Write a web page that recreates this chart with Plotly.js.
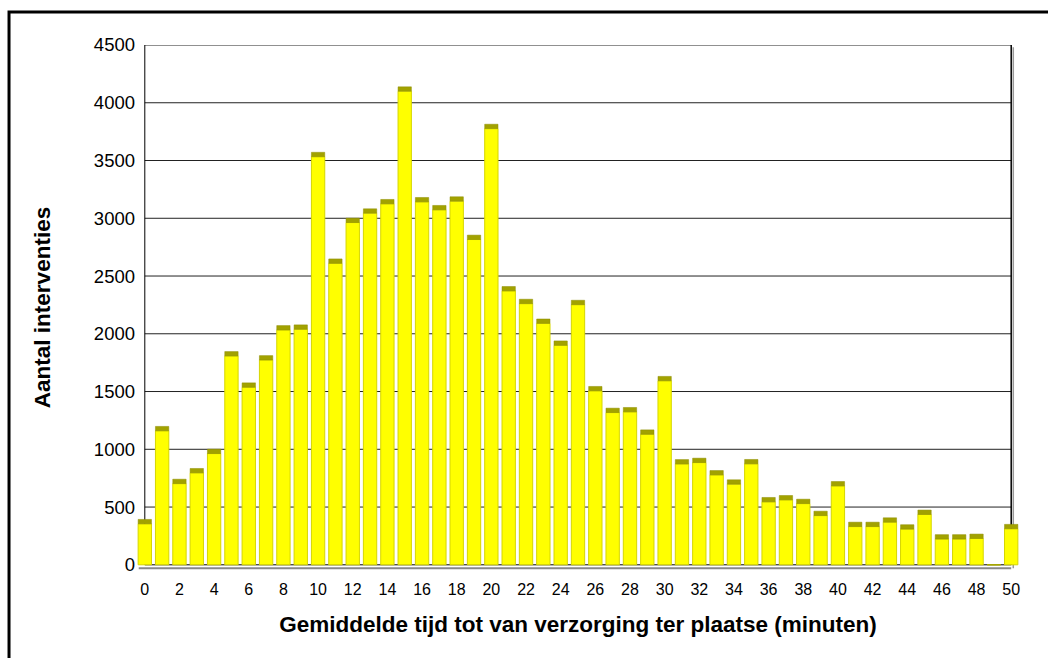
<!DOCTYPE html>
<html>
<head>
<meta charset="utf-8">
<script src="https://cdn.plot.ly/plotly-3.0.1.min.js"></script>
<style>html,body{margin:0;padding:0;background:#fff;}#chart{width:1048px;height:658px;}</style>
</head>
<body>
<div id="chart"></div>
<script>
// Categories: average time until care on site (minutes)
const minutes = [0,1,2,3,4,5,6,7,8,9,10,11,12,13,14,15,16,17,18,19,20,21,22,23,24,25,26,27,28,29,30,31,32,33,34,35,36,37,38,39,40,41,42,43,44,45,46,47,48,49,50];
// Number of interventions per minute
const counts = [355,1160,703,796,963,1808,1537,1773,2033,2039,
                3533,2610,2963,3044,3125,4100,3142,3073,3148,2816,
                3776,2371,2261,2090,1900,2252,1506,1318,1324,1130,
                1593,873,885,778,698,874,545,562,530,426,
                683,331,331,369,309,436,223,223,228,0,312];
const xTickLabels = ['0','2','4','6','8','10','12','14','16','18','20','22','24','26','28','30','32','34','36','38','40','42','44','46','48','50'];
const yTickValues = [0,500,1000,1500,2000,2500,3000,3500,4000,4500];

const xTickVals = xTickLabels.map(Number);
const capHeight = 38; // visual depth of the 3D bar top (style)
const caps = counts.map(v => v > 0 ? capHeight : 0);

const font = '"Liberation Sans", Arial, sans-serif';

const shapes = [];
// horizontal gridlines
yTickValues.forEach(v => {
  if (v === 0) return;
  shapes.push({type:'line', xref:'x', yref:'y', x0:0, x1:50, y0:v, y1:v,
    line:{color:'#222', width:1}, layer:'below'});
});
// floor
shapes.push({type:'line', xref:'x', yref:'y', x0:-0.35, x1:50, y0:-30, y1:-30,
  line:{color:'#888', width:2}, layer:'below'});
shapes.push({type:'line', xref:'x', yref:'y', x0:0, x1:50, y0:0, y1:0,
  line:{color:'#000', width:1}, layer:'below'});
// left axis wall and right wall
shapes.push({type:'line', xref:'x', yref:'y', x0:0, x1:0, y0:0, y1:4500,
  line:{color:'#000', width:1}, layer:'below'});
shapes.push({type:'line', xref:'x', yref:'y', x0:50, x1:50, y0:0, y1:4500,
  line:{color:'#000', width:1.5}, layer:'below'});
shapes.push({type:'line', xref:'x', yref:'y', x0:50.12, x1:50.12, y0:-30, y1:4480,
  line:{color:'#999', width:1.5}, layer:'below'});
// outer chart border
shapes.push({type:'rect', xref:'paper', yref:'paper', x0:-0.1451, x1:1.2, y0:-0.3, y1:1.0629,
  line:{color:'#000', width:3}, fillcolor:'rgba(0,0,0,0)'});

const data = [
  {
    type:'bar', x:minutes, y:counts, width:0.77,
    marker:{color:'#ffff00', line:{color:'#d6d600', width:1}},
    hoverinfo:'x+y', name:'Aantal'
  },
  {
    type:'bar', x:minutes, y:caps, base:counts, width:0.77,
    marker:{color:'#a2a200', line:{color:'#8f8f00', width:0.5}},
    hoverinfo:'skip', showlegend:false
  }
];

const layout = {
  width:1048, height:658,
  margin:{l:137, r:29, t:45, b:88},
  paper_bgcolor:'#fff', plot_bgcolor:'#fff',
  barmode:'overlay',
  showlegend:false,
  font:{family:font, color:'#000', size:16},
  xaxis:{
    range:[-0.45, 50.45],
    tickvals:xTickVals, ticktext:xTickLabels,
    ticks:'', showgrid:false, zeroline:false, showline:false,
    tickfont:{family:font, size:16, color:'#000'},
    ticklabelstandoff:8,
    title:{text:'<b>Gemiddelde tijd tot van verzorging ter plaatse (minuten)</b>',
      font:{family:font, size:22.5, color:'#000'}, standoff:19}
  },
  yaxis:{
    range:[-45, 4500],
    tickvals:yTickValues, ticktext:yTickValues.map(String),
    ticks:'', showgrid:false, zeroline:false, showline:false,
    tickfont:{family:font, size:18.5, color:'#000'},
    ticklabelstandoff:1,
    title:{text:'<b>Aantal interventies</b>',
      font:{family:font, size:22.5, color:'#000'}, standoff:36}
  },
  shapes:shapes
};

Plotly.newPlot('chart', data, layout, {displayModeBar:false, staticPlot:true});
</script>
</body>
</html>
